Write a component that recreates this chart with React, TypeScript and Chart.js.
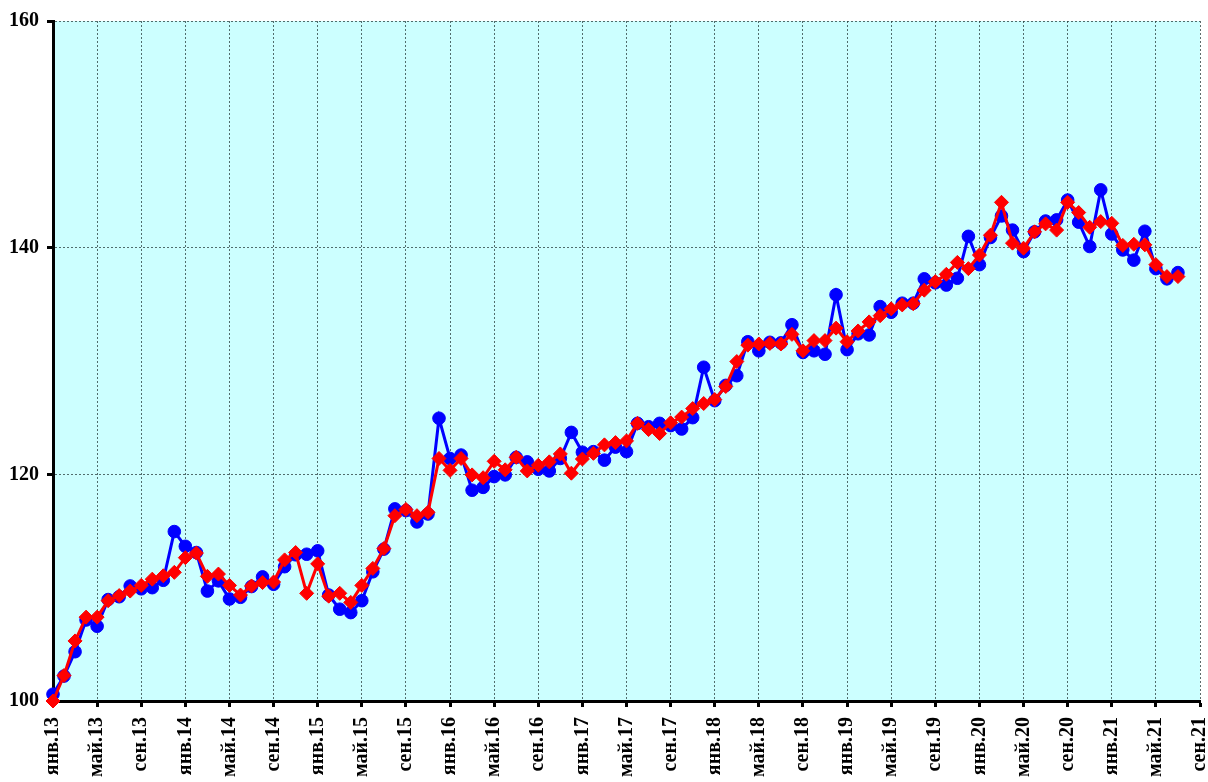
import React, { useEffect, useRef } from "react";
import { Chart, registerables } from "chart.js";

Chart.register(...registerables);

const MONTHS = ["янв", "фев", "мар", "апр", "май", "июн", "июл", "авг", "сен", "окт", "ноя", "дек"];
const YEARS = ["13", "14", "15", "16", "17", "18", "19", "20", "21"];
const CATEGORIES: string[] = YEARS.flatMap((y) => MONTHS.map((m) => `${m}.${y}`)).slice(0, 105);

const BLUE_SERIES = [
  100.6, 102.2, 104.35, 107.15, 106.6, 108.95, 109.2, 110.15, 109.9, 110.0,
  110.65, 114.95, 113.65, 113.1, 109.7, 110.6, 109.0, 109.15, 110.1, 110.95,
  110.3, 111.85, 112.9, 112.95, 113.25, 109.35, 108.1, 107.8, 108.85, 111.4,
  113.4, 116.95, 116.8, 115.8, 116.5, 124.95, 121.4, 121.7, 118.6, 118.85,
  119.8, 119.95, 121.5, 121.1, 120.45, 120.3, 121.4, 123.7, 121.95, 122.0,
  121.25, 122.4, 122.0, 124.5, 124.2, 124.5, 124.3, 124.0, 125.0, 129.45,
  126.5, 127.85, 128.7, 131.7, 130.9, 131.65, 131.6, 133.2, 130.75, 130.9,
  130.6, 135.85, 131.0, 132.4, 132.3, 134.8, 134.3, 135.1, 135.1, 137.25,
  136.9, 136.7, 137.3, 141.0, 138.5, 140.9, 142.8, 141.55, 139.65, 141.4,
  142.35, 142.45, 144.2, 142.25, 140.1, 145.1, 141.2, 139.8, 138.9, 141.45,
  138.15, 137.25, 137.8,
];

const RED_SERIES = [
  100.0, 102.25, 105.3, 107.4, 107.4, 108.85, 109.3, 109.7, 110.2, 110.75,
  111.05, 111.35, 112.65, 113.05, 111.0, 111.2, 110.2, 109.35, 110.15, 110.45,
  110.5, 112.45, 113.1, 109.5, 112.1, 109.25, 109.5, 108.7, 110.2, 111.7,
  113.45, 116.35, 116.9, 116.35, 116.65, 121.4, 120.35, 121.4, 119.95, 119.7,
  121.15, 120.4, 121.5, 120.3, 120.8, 121.1, 121.8, 120.1, 121.35, 121.85,
  122.6, 122.8, 122.95, 124.5, 123.95, 123.6, 124.55, 125.05, 125.8, 126.25,
  126.6, 127.75, 129.95, 131.4, 131.5, 131.55, 131.5, 132.35, 130.9, 131.8,
  131.8, 132.9, 131.7, 132.65, 133.45, 134.0, 134.6, 134.95, 135.05, 136.25,
  137.0, 137.65, 138.7, 138.15, 139.35, 141.1, 144.0, 140.4, 139.95, 141.4,
  142.1, 141.55, 144.0, 143.1, 141.8, 142.3, 142.15, 140.2, 140.3, 140.25,
  138.5, 137.45, 137.45,
];

const Y_MIN = 100;
const Y_MAX = 160;
const Y_STEP = 20;
const LABEL_EVERY = 4;

const FONT = { family: "'Liberation Serif', 'Times New Roman', serif", size: 20, weight: "bold" as const };
const GRID_COLOR = "rgba(40,60,60,0.75)";

const plotBackground = {
  id: "plotBackground",
  beforeDraw(chart: any) {
    const { ctx, chartArea } = chart;
    if (!chartArea) return;
    ctx.save();
    ctx.fillStyle = "#CCFFFF";
    ctx.fillRect(chartArea.left, chartArea.top, chartArea.right - chartArea.left, chartArea.bottom - chartArea.top);
    ctx.restore();
  },
};

export default function App() {
  const ref = useRef<HTMLCanvasElement | null>(null);

  useEffect(() => {
    document.body.style.margin = "0";
    const canvas = ref.current;
    if (!canvas) return;
    const chart = new Chart(canvas, {
      type: "line",
      data: {
        labels: CATEGORIES,
        datasets: [
          {
            label: "red",
            data: RED_SERIES,
            borderColor: "#FF0000",
            backgroundColor: "#FF0000",
            borderWidth: 3,
            pointStyle: "rectRot",
            pointRadius: 7,
            pointBorderWidth: 1,
            pointBorderColor: "#FF0000",
            pointBackgroundColor: "#FF0000",
            tension: 0,
            fill: false,
            clip: false as any,
          },
          {
            label: "blue",
            data: BLUE_SERIES,
            borderColor: "#0000FF",
            backgroundColor: "#0000FF",
            borderWidth: 3,
            pointStyle: "circle",
            pointRadius: 6.3,
            pointBorderWidth: 1,
            pointBorderColor: "#0000FF",
            pointBackgroundColor: "#0000FF",
            tension: 0,
            fill: false,
            clip: false as any,
          },
        ],
      },
      options: {
        responsive: false,
        animation: false,
        devicePixelRatio: 1,
        layout: { padding: { top: 21, right: 7, left: 0, bottom: 0 } },
        plugins: { legend: { display: false }, tooltip: { enabled: false } },
        scales: {
          x: {
            type: "category",
            offset: false,
            grid: {
              color: (c: any) => (c.index % LABEL_EVERY === 0 ? GRID_COLOR : "rgba(0,0,0,0)"),
              lineWidth: 1,
              tickColor: (c: any) => (c.index % LABEL_EVERY === 0 ? "#000" : "rgba(0,0,0,0)"),
              tickWidth: 3,
              tickLength: 6,
            },
            border: { color: "#000", width: 3, dash: [2, 2] },
            ticks: {
              autoSkip: false,
              maxRotation: 90,
              minRotation: 90,
              padding: 10,
              color: "#000",
              font: FONT,
              callback: (_v: any, i: number) => (i % LABEL_EVERY === 0 ? CATEGORIES[i] : ""),
            },
            afterFit: (s: any) => {
              s.height = 81;
              s.paddingLeft = 0;
              s.paddingRight = 0;
            },
          },
          y: {
            min: Y_MIN,
            max: Y_MAX,
            grid: {
              color: GRID_COLOR,
              lineWidth: 1,
              tickColor: "#000",
              tickWidth: 3,
              tickLength: 6,
            },
            border: { color: "#000", width: 3, dash: [2, 2] },
            ticks: {
              stepSize: Y_STEP,
              padding: 8,
              color: "#000",
              font: FONT,
            },
            afterFit: (s: any) => {
              s.width = 53;
              s.paddingTop = 0;
              s.paddingBottom = 0;
            },
          },
        },
      },
      plugins: [plotBackground],
    });
    return () => chart.destroy();
  }, []);

  return (
    <div style={{ width: 1208, height: 782 }}>
      <canvas ref={ref} width={1208} height={782} style={{ display: "block" }} />
    </div>
  );
}
